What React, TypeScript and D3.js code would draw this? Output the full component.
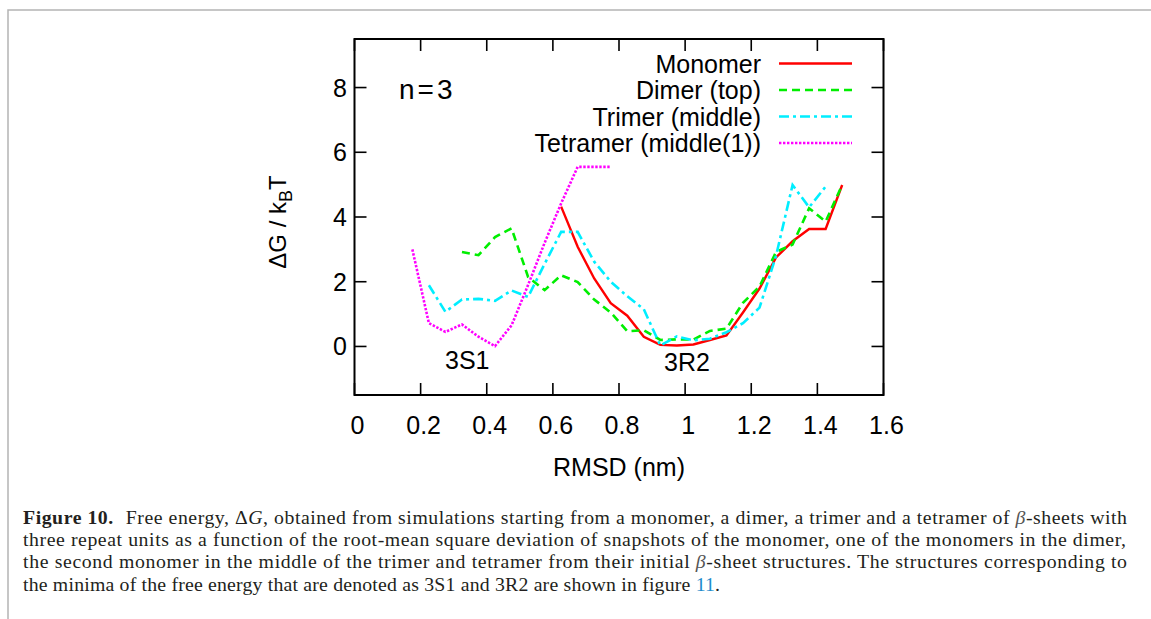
import React from "react";
import * as d3 from "d3";

// ---- data ----
const monomerX = [0.625, 0.675, 0.725, 0.775, 0.825, 0.875, 0.925, 0.975, 1.025, 1.075, 1.125, 1.175, 1.225, 1.275, 1.325, 1.375, 1.425, 1.475];
const monomerY = [4.32, 3.08, 2.1, 1.34, 0.95, 0.3, 0.05, 0.03, 0.06, 0.2, 0.34, 1.05, 1.79, 2.75, 3.25, 3.63, 3.63, 4.99];

const dimerX = [0.325, 0.375, 0.425, 0.475, 0.525, 0.575, 0.625, 0.675, 0.725, 0.775, 0.825, 0.875, 0.925, 0.975, 1.025, 1.075, 1.125, 1.175, 1.225, 1.275, 1.325, 1.375, 1.425, 1.475];
const dimerY = [2.92, 2.82, 3.38, 3.65, 2.15, 1.74, 2.2, 1.99, 1.45, 1.05, 0.47, 0.5, 0.2, 0.22, 0.21, 0.48, 0.55, 1.35, 1.85, 2.92, 3.15, 4.27, 3.86, 4.99];

const trimerX = [0.225, 0.275, 0.325, 0.375, 0.425, 0.475, 0.525, 0.575, 0.625, 0.675, 0.725, 0.775, 0.825, 0.875, 0.925, 0.975, 1.025, 1.075, 1.125, 1.175, 1.225, 1.275, 1.325, 1.375, 1.425];
const trimerY = [1.89, 1.07, 1.45, 1.47, 1.41, 1.73, 1.53, 2.55, 3.54, 3.54, 2.62, 2.0, 1.55, 1.15, 0.03, 0.31, 0.19, 0.24, 0.44, 0.72, 1.2, 2.8, 4.99, 4.3, 4.94];

const tetramerX = [0.175, 0.225, 0.275, 0.325, 0.375, 0.425, 0.475, 0.525, 0.575, 0.625, 0.675, 0.725, 0.775];
const tetramerY = [3.0, 0.72, 0.45, 0.68, 0.3, 0.01, 0.65, 1.9, 3.2, 4.42, 5.55, 5.55, 5.55];

const xTicks = [0, 0.2, 0.4, 0.6, 0.8, 1, 1.2, 1.4, 1.6];
const xTickLabels = ["0", "0.2", "0.4", "0.6", "0.8", "1", "1.2", "1.4", "1.6"];
const yTicks = [0, 2, 4, 6, 8];
const yTickLabels = ["0", "2", "4", "6", "8"];

const seriesNames = ["Monomer", "Dimer (top)", "Trimer (middle)", "Tetramer (middle(1))"];
const seriesColors = ["#ff0000", "#00ee00", "#00eeff", "#ff00ff"];
const seriesDash = ["none", "8,5", "10,4,3,4", "2.4,1.6"];

const SANS = "'Liberation Sans', Arial, Helvetica, sans-serif";
const SERIF = "'Liberation Serif', 'Times New Roman', serif";

export default function App() {
  const W = 1151, H = 619;
  const left = 354.5, right = 883.5, top = 39, bottom = 395;
  const x = d3.scaleLinear().domain([0, 1.6]).range([left, right]);
  const y = d3.scaleLinear().domain([-1.5, 9.5]).range([bottom, top]);

  const series = [
    monomerX.map((v, i) => [v, monomerY[i]] as [number, number]),
    dimerX.map((v, i) => [v, dimerY[i]] as [number, number]),
    trimerX.map((v, i) => [v, trimerY[i]] as [number, number]),
    tetramerX.map((v, i) => [v, tetramerY[i]] as [number, number]),
  ];
  const line = d3.line<[number, number]>().x((d) => x(d[0])).y((d) => y(d[1]));

  const tickLen = 12;
  const legendRight = 761;
  const legendLineX0 = 779, legendLineX1 = 852;
  const legendBaselines = [72.5, 99, 125.5, 152];

  return (
    <div style={{ position: "absolute", left: 0, top: 0 }}>
      <svg width={W} height={H} style={{ display: "block", background: "#fff" }}>
        {/* page border */}
        <path d={`M8,${H} V10 H${W}`} fill="none" stroke="#b4b4b4" strokeWidth={1.5} />

        {/* series */}
        {series.map((s, i) => (
          <path
            key={i}
            d={line(s) || ""}
            fill="none"
            stroke={seriesColors[i]}
            strokeWidth={i === 0 ? 2.4 : 2.6}
            strokeDasharray={seriesDash[i] === "none" ? undefined : seriesDash[i]}
            strokeLinejoin="miter"
          />
        ))}

        {/* frame */}
        <rect x={left} y={top} width={right - left} height={bottom - top} fill="none" stroke="#000" strokeWidth={2} />

        {/* x ticks (bottom and top, inward) */}
        {xTicks.map((t, i) => (
          <g key={"xt" + i}>
            <line x1={x(t)} x2={x(t)} y1={bottom} y2={bottom - tickLen} stroke="#000" strokeWidth={1.6} />
            <line x1={x(t)} x2={x(t)} y1={top} y2={top + tickLen} stroke="#000" strokeWidth={1.6} />
            <text x={x(t) + 3} y={434} textAnchor="middle" fontFamily={SANS} fontSize={25} fill="#000">
              {xTickLabels[i]}
            </text>
          </g>
        ))}

        {/* y ticks (left and right, inward) */}
        {yTicks.map((t, i) => (
          <g key={"yt" + i}>
            <line x1={left} x2={left + tickLen} y1={y(t)} y2={y(t)} stroke="#000" strokeWidth={1.6} />
            <line x1={right} x2={right - tickLen} y1={y(t)} y2={y(t)} stroke="#000" strokeWidth={1.6} />
            <text x={347} y={y(t) + 9} textAnchor="end" fontFamily={SANS} fontSize={25} fill="#000">
              {yTickLabels[i]}
            </text>
          </g>
        ))}

        {/* axis titles */}
        <text x={619} y={476} textAnchor="middle" fontFamily={SANS} fontSize={25} fill="#000">
          RMSD (nm)
        </text>
        <text transform="translate(286,222) rotate(-90)" textAnchor="middle" fontFamily={SANS} fontSize={24} fill="#000">
          ΔG / k<tspan dy={6} fontSize={18}>B</tspan><tspan dy={-6}>T</tspan>
        </text>

        {/* annotations */}
        <text x={399} y={99} fontFamily={SANS} fontSize={28} fill="#000" letterSpacing={3}>
          n=3
        </text>
        <text x={445} y={369} fontFamily={SANS} fontSize={25} fill="#000">3S1</text>
        <text x={664} y={371} fontFamily={SANS} fontSize={25} fill="#000">3R2</text>

        {/* legend */}
        {seriesNames.map((n, i) => (
          <g key={"lg" + i}>
            <text x={legendRight} y={legendBaselines[i]} textAnchor="end" fontFamily={SANS} fontSize={25} fill="#000">
              {n}
            </text>
            <line
              x1={legendLineX0}
              x2={legendLineX1}
              y1={legendBaselines[i] - 9}
              y2={legendBaselines[i] - 9}
              stroke={seriesColors[i]}
              strokeWidth={i === 0 ? 2.4 : 2.6}
              strokeDasharray={seriesDash[i] === "none" ? undefined : seriesDash[i]}
            />
          </g>
        ))}

        {/* caption */}
        <g fontFamily={SERIF} fontSize={19.8} fill="#231f20">
          <text x={23} y={524} textLength={1104} lengthAdjust="spacing">
            <tspan fontWeight="bold">Figure 10.</tspan>
            <tspan dx={12}>Free energy, Δ</tspan>
            <tspan fontStyle="italic">G</tspan>
            <tspan>, obtained from simulations starting from a monomer, a dimer, a trimer and a tetramer of </tspan>
            <tspan fontStyle="italic" fill="#555">β</tspan>
            <tspan>-sheets with</tspan>
          </text>
          <text x={23} y={546} textLength={1103} lengthAdjust="spacing">
            three repeat units as a function of the root-mean square deviation of snapshots of the monomer, one of the monomers in the dimer,
          </text>
          <text x={23} y={568} textLength={1104} lengthAdjust="spacing">
            <tspan>the second monomer in the middle of the trimer and tetramer from their initial </tspan>
            <tspan fontStyle="italic" fill="#555">β</tspan>
            <tspan>-sheet structures. The structures corresponding to</tspan>
          </text>
          <text x={23} y={591} textLength={697} lengthAdjust="spacing">
            <tspan>the minima of the free energy that are denoted as 3S1 and 3R2 are shown in figure </tspan>
            <tspan fill="#1f8ccc">11</tspan>
            <tspan>.</tspan>
          </text>
        </g>
      </svg>
    </div>
  );
}
